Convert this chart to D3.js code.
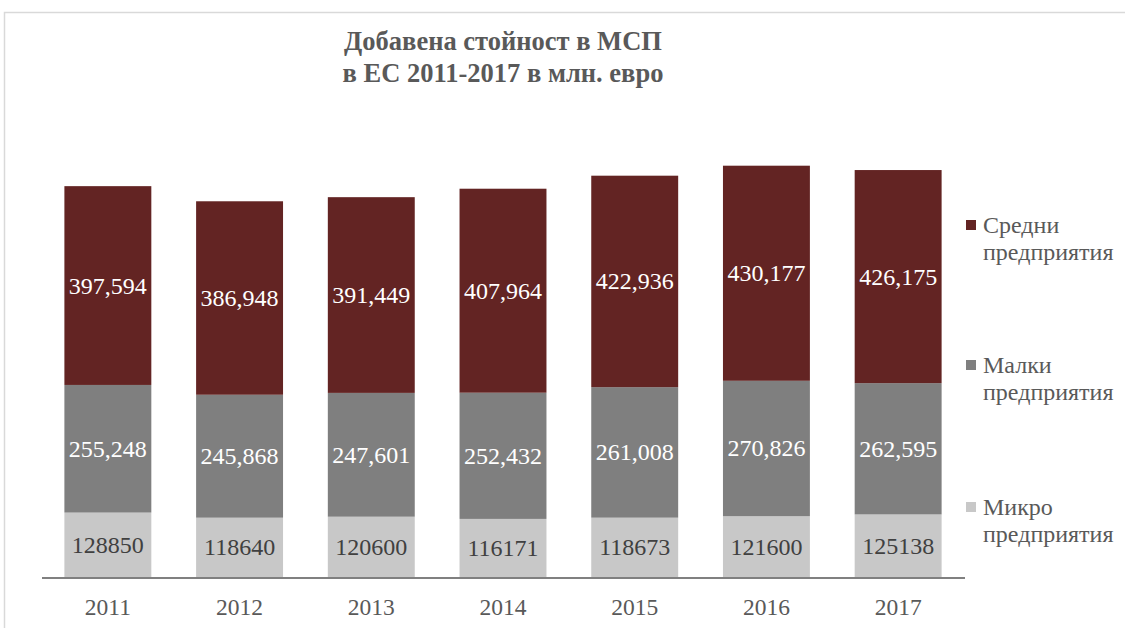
<!DOCTYPE html>
<html>
<head>
<meta charset="utf-8">
<script src="https://cdn.jsdelivr.net/npm/d3@7"></script>
<style>
  body { margin: 0; background: #fff; }
  svg text { font-family: "Liberation Serif", "Times New Roman", serif; }
</style>
</head>
<body>
<div id="chart"></div>
<script>
var years = ['2011', '2012', '2013', '2014', '2015', '2016', '2017'];
var micro = [128850, 118640, 120600, 116171, 118673, 121600, 125138];
var small = [255248, 245868, 247601, 252432, 261008, 270826, 262595];
var medium = [397594, 386948, 391449, 407964, 422936, 430177, 426175];

var width = 1125, height = 628;

var svg = d3.select('#chart').append('svg')
    .attr('width', width)
    .attr('height', height);

// chart frame
svg.append('path')
    .attr('d', 'M4.5,' + height + 'V12.5H' + width)
    .attr('fill', 'none')
    .attr('stroke', '#d9d9d9')
    .attr('stroke-width', 1.5);

// title
var title = svg.append('text')
    .attr('x', 503)
    .attr('y', 50)
    .attr('text-anchor', 'middle')
    .attr('fill', '#595959')
    .style('font-size', '26.5px')
    .style('font-weight', 'bold');
title.append('tspan').attr('x', 503).text('Добавена стойност в МСП');
title.append('tspan').attr('x', 503).attr('dy', 32).text('в ЕС 2011-2017 в млн. евро');

var data = years.map(function(y, i) {
    return { year: y, micro: micro[i], small: small[i], medium: medium[i] };
});

var keys = ['micro', 'small', 'medium'];
var colors = { micro: '#c8c8c8', small: '#7f7f7f', medium: '#632423' };
var labelColors = { micro: '#404040', small: '#ffffff', medium: '#ffffff' };

var x = d3.scaleBand()
    .domain(years)
    .range([42, 964])
    .paddingInner(0.34)
    .paddingOuter(0.17);

var y = d3.scaleLinear()
    .domain([0, 900000])
    .range([577, 127]);

var stack = d3.stack().keys(keys)(data);

var layers = svg.append('g').selectAll('g')
    .data(stack)
    .enter()
    .append('g')
    .attr('fill', function(d) { return colors[d.key]; });

layers.selectAll('rect')
    .data(function(d) { return d; })
    .enter()
    .append('rect')
    .attr('x', function(d) { return x(d.data.year); })
    .attr('y', function(d) { return y(d[1]); })
    .attr('width', x.bandwidth())
    .attr('height', function(d) { return y(d[0]) - y(d[1]); });

var fmt = d3.format(',');
stack.forEach(function(layer) {
    svg.append('g').selectAll('text')
        .data(layer)
        .enter()
        .append('text')
        .attr('x', function(d) { return x(d.data.year) + x.bandwidth() / 2; })
        .attr('y', function(d) { return (y(d[0]) + y(d[1])) / 2 + 8; })
        .attr('text-anchor', 'middle')
        .attr('fill', labelColors[layer.key])
        .style('font-size', '24px')
        .text(function(d) {
            var v = d.data[layer.key];
            return layer.key === 'micro' ? String(v) : fmt(v);
        });
});

// x axis
svg.append('line')
    .attr('x1', 42).attr('x2', 965)
    .attr('y1', 578).attr('y2', 578)
    .attr('stroke', '#808080')
    .attr('stroke-width', 2);

svg.append('g').selectAll('text')
    .data(years)
    .enter()
    .append('text')
    .attr('x', function(d) { return x(d) + x.bandwidth() / 2; })
    .attr('y', 615)
    .attr('text-anchor', 'middle')
    .attr('fill', '#595959')
    .style('font-size', '23.5px')
    .text(function(d) { return d; });

// legend
var legendItems = [
    { key: 'medium', lines: ['Средни', 'предприятия'], y: 220 },
    { key: 'small', lines: ['Малки', 'предприятия'], y: 360 },
    { key: 'micro', lines: ['Микро', 'предприятия'], y: 502 }
];

var legend = svg.append('g').selectAll('g')
    .data(legendItems)
    .enter()
    .append('g')
    .attr('transform', function(d) { return 'translate(966,' + d.y + ')'; });

legend.append('rect')
    .attr('width', 10)
    .attr('height', 10)
    .attr('fill', function(d) { return colors[d.key]; });

legend.append('text')
    .attr('fill', '#595959')
    .style('font-size', '24px')
    .each(function(d) {
        var t = d3.select(this);
        d.lines.forEach(function(line, i) {
            t.append('tspan').attr('x', 17).attr('y', 13 + i * 27).text(line);
        });
    });
</script>
</body>
</html>
